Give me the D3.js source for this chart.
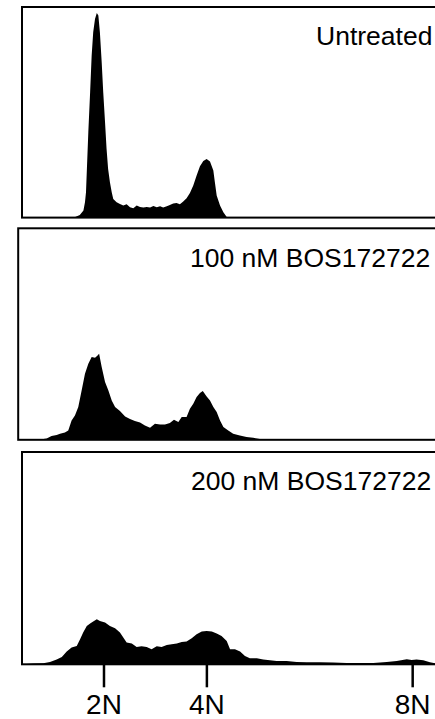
<!DOCTYPE html>
<html>
<head>
<meta charset="utf-8">
<script src="https://cdn.jsdelivr.net/npm/d3@7"></script>
<style>
  body { margin: 0; background: #fff; }
  svg { display: block; }
  .panel-label, .axis text { font-family: "Liberation Sans", Arial, sans-serif; fill: #000; }
</style>
</head>
<body>
<svg id="chart"></svg>
<script>
// DNA content histograms, [channel, count]
const sampleLabels = ['Untreated', '100 nM BOS172722', '200 nM BOS172722'];

const untreated = [
  [130,0],[145,0.7],[154,2.7],[161,7],[164,15.3],[166,25.3],[170.5,85.3],[174,125.3],[177,162],
  [180,185.3],[183.5,198.7],[187,204.7],[190,202],[193,185.3],[196.5,155.3],[199.5,125.3],[203,95.3],
  [206,68.7],[209,48.7],[212.5,35.3],[216,25.3],[219,18.7],[225.5,15.3],[232,13.7],[238.5,12],
  [245,13.3],[251.5,10.3],[258,9.3],[264.5,12],[271,10.7],[277.5,10],[284,10.7],[290.5,10],
  [297,11.7],[303.5,10.3],[310,11.3],[316,10],[323,11.3],[329,12.7],[335.5,14],[342,14.7],
  [348.5,13.3],[355,16],[361.5,19.3],[368,24.7],[374.5,32],[381,42],[387.5,51.3],[394,56.7],
  [400.5,58.7],[407,56],[413.5,47],[416.5,35.3],[420,22],[426.5,12],[433,5.3],[439.5,0.7],[445,0]
];

const bos100 = [
  [77,0],[83,0.7],[89.5,1.3],[99,3.7],[109,4.7],[115.5,6],[125,7.3],[131.5,9.3],[138,19.3],
  [144.5,24.3],[151,32.7],[157.5,49.3],[164,66],[170.5,76],[177,82.7],[183.5,82],[188,84],
  [191.5,86],[196.5,72.7],[203,57.7],[209.5,49.3],[216,39.3],[222.5,32.7],[232,28.7],[242,23.3],
  [251.5,20.7],[261,18.7],[271,17.3],[280.5,14.3],[290.5,12],[300,16],[310,15.3],[319.5,15.3],
  [329,16.7],[337,20],[345.5,17.7],[352,22.7],[361.5,22.7],[368,31],[374.5,36],[381,42.7],
  [387.5,46.7],[393,48.7],[400.5,43.3],[407,39.3],[413.5,32.7],[420,27.7],[426.5,19.3],[433,12.7],
  [442.5,9.3],[452,6],[465,4.3],[478,2.7],[491,2],[504,0.7],[517,0.3],[582,0.3],[620,0]
];

const bos200 = [
  [44,0],[63.5,0.7],[83,1],[96,2.3],[109,4.7],[119,7.3],[128.5,12.7],[138,16.7],[148,18.3],
  [154.5,25],[160.5,31.7],[167.5,38.3],[174,40.7],[180,42.7],[187,45],[193,43.3],[203,41.7],
  [212.5,38.3],[222.5,36],[232,31.7],[238.5,26.7],[245,21.7],[255,20.7],[264.5,17.3],[274,18],
  [284,17.3],[293.5,15],[303.5,18],[313,17.3],[323,19.3],[332.5,20],[342.5,20.7],[352,22.3],
  [361.5,22.7],[371.5,26],[381,30],[391,32.7],[400.5,33.3],[410.5,32.7],[420,30.7],[429.5,28.3],
  [439.5,23.3],[446,15],[455.5,15],[465.5,12.7],[475,8.3],[484.5,6],[498,6],[510.5,4.7],
  [523.5,4],[536.5,3.3],[556,3.3],[575.5,2.3],[595,2],[621,2],[646.5,1.7],[672.5,1.3],
  [698.5,1.3],[724.5,1.3],[750.5,2.3],[770,3.3],[789.5,5],[799,4.3],[808.5,4.7],[821.5,4],
  [834.5,2],[844.5,1],[860,0.5]
];

const tickChannels = [200, 400, 800];
const tickLabels = ['2N', '4N', '8N'];

const config = {
  width: 435,
  height: 719,
  maxCount: 210,
  fontSize: 26.5,
  // frame geometry of each panel (left, top, height) and label start x / baseline
  panels: [
    { left: 22, top: 7, h: 210.6, labelX: 316, labelY: 45 },
    { left: 18.2, top: 228.3, h: 211.5, labelX: 190, labelY: 267 },
    { left: 22, top: 452, h: 212.3, labelX: 191, labelY: 490 }
  ]
};

const samples = [untreated, bos100, bos200];

const svg = d3.select('#chart')
    .attr('width', config.width)
    .attr('height', config.height);

const xScale = d3.scaleLinear()
    .domain([0, 850])
    .range([0.6, 437.9]);

samples.forEach((data, i) => {
  const p = config.panels[i];
  const bottom = p.top + p.h;

  const yScale = d3.scaleLinear()
      .domain([0, config.maxCount])
      .range([bottom, bottom - config.maxCount]);

  const area = d3.area()
      .x(d => xScale(d[0]))
      .y0(yScale(0))
      .y1(d => yScale(d[1]));

  const g = svg.append('g').attr('class', 'panel');

  g.append('path')
      .datum(data)
      .attr('d', area)
      .attr('fill', '#000');

  // frame runs off the right edge like the original figure
  g.append('rect')
      .attr('x', p.left)
      .attr('y', p.top)
      .attr('width', config.width + 20 - p.left)
      .attr('height', p.h)
      .attr('fill', 'none')
      .attr('stroke', '#000')
      .attr('stroke-width', 2);

  g.append('text')
      .attr('class', 'panel-label')
      .attr('x', p.labelX)
      .attr('y', p.labelY)
      .style('font-size', config.fontSize + 'px')
      .text(sampleLabels[i]);
});

// ploidy axis under the last panel
const last = config.panels[2];
const xAxis = d3.axisBottom(xScale)
    .tickValues(tickChannels)
    .tickFormat((d, i) => tickLabels[i])
    .tickSize(23);

svg.append('g')
    .attr('class', 'axis')
    .attr('transform', `translate(0,${last.top + last.h})`)
    .call(xAxis)
    .call(g => g.select('.domain').remove())
    .call(g => g.selectAll('.tick line').attr('stroke', '#000').attr('stroke-width', 2.5))
    .call(g => g.selectAll('.tick text')
        .attr('y', 50)
        .attr('dy', 0)
        .style('font-size', '28px'));
</script>
</body>
</html>
